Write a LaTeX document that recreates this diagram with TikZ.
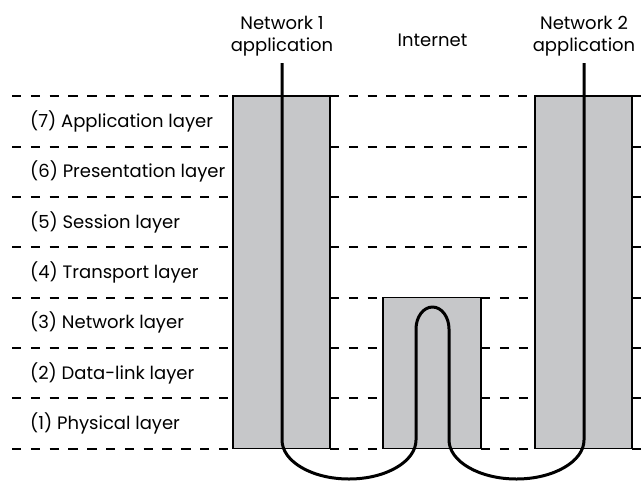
\documentclass[tikz,border=0pt]{standalone}
\usepackage{fontspec}
\setmainfont{Poppins}
\definecolor{boxgray}{RGB}{198,199,201}
\begin{document}
\begin{tikzpicture}[x=1pt,y=-1pt,
  layerbox/.style={draw=black, line width=1.5pt, fill=boxgray, inner sep=0pt, outer sep=0pt, anchor=north west},
  gridline/.style={line width=2pt, dash pattern=on 9.4pt off 9.4pt},
  wire/.style={line width=3pt, line join=round},
  lbl/.style={anchor=base west, inner sep=0pt, font=\fontsize{18}{21}\selectfont},
  ttl/.style={align=center, inner sep=0pt, font=\fontsize{18}{22}\selectfont}]
\useasboundingbox (0,0) rectangle (642,482);
% dashed layer lines
\foreach \y in {96,146.5,197,247.3}{
  \draw[gridline] (12,\y) -- (233,\y);
  \draw[gridline] (330,\y) -- (535,\y);
  \draw[gridline] (632,\y) -- (642,\y);
}
\foreach \y in {297.5,348,398.2,448.5}{
  \draw[gridline] (12,\y) -- (233,\y);
  \draw[gridline] (330,\y) -- (383,\y);
  \draw[gridline] (481,\y) -- (535,\y);
  \draw[gridline] (632,\y) -- (642,\y);
}
% boxes
\node[layerbox, minimum width=97pt, minimum height=352.5pt] (box1) at (233,96) {};
\node[layerbox, minimum width=98pt, minimum height=151pt] (box2) at (383,297.5) {};
\node[layerbox, minimum width=97pt, minimum height=352.5pt] (box3) at (535,96) {};
% layer labels
\node[lbl] (l7) at (30,127) {(7) Application layer};
\node[lbl] (l6) at (30,177.5) {(6) Presentation layer};
\node[lbl] (l5) at (30,228) {(5) Session layer};
\node[lbl] (l4) at (30,278.3) {(4) Transport layer};
\node[lbl] (l3) at (30,328.5) {(3) Network layer};
\node[lbl] (l2) at (30,379) {(2) Data-link layer};
\node[lbl] (l1) at (30,429.2) {(1) Physical layer};
% titles
\node[ttl] (n1) at (282,36.5) {Network 1\\application};
\node[ttl, anchor=base] (inet) at (432.5,46) {Internet};
\node[ttl] (n2) at (584,36.5) {Network 2\\application};
\coordinate (w1) at (282,63);
\coordinate (w2) at (584,63);
% wire
\draw[wire] (w1) -- (282,440)
  .. controls (282,461.5) and (312,479) .. (349,479)
  .. controls (386,479) and (416,461.5) .. (416,440)
  -- (416,329)
  .. controls (416,316.9) and (423.4,307) .. (432.5,307)
  .. controls (441.6,307) and (449,316.9) .. (449,329)
  -- (449,440)
  .. controls (449,461.5) and (479.5,479) .. (516.5,479)
  .. controls (553.5,479) and (584,461.5) .. (584,440)
  -- (w2);
\end{tikzpicture}
\end{document}
